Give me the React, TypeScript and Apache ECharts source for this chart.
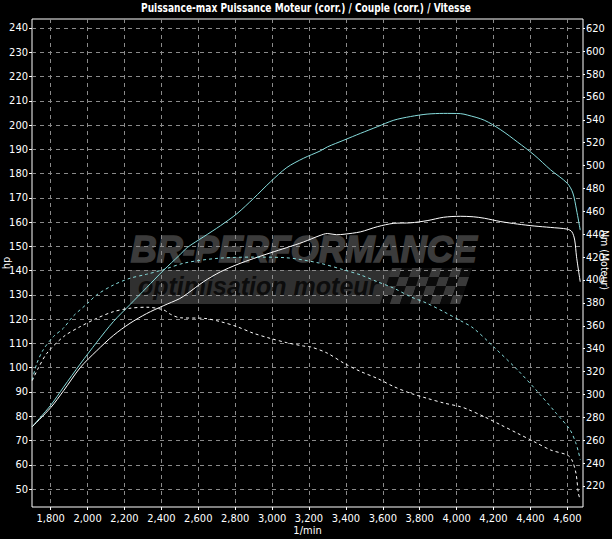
import React, { useEffect, useRef } from 'react';
import * as echarts from 'echarts';

const TITLE = 'Puissance-max Puissance Moteur (corr.) / Couple (corr.) / Vitesse';
const X_NAME = '1/min';
const LEFT_NAME = 'hp';
const RIGHT_NAME = 'Nm (Moteur)';

const X_TICKS = [1800, 2000, 2200, 2400, 2600, 2800, 3000, 3200, 3400, 3600, 3800, 4000, 4200, 4400, 4600];
const HP_TICKS = [50, 60, 70, 80, 90, 100, 110, 120, 130, 140, 150, 160, 170, 180, 190, 200, 210, 220, 230, 240];
const NM_TICKS = [220, 240, 260, 280, 300, 320, 340, 360, 380, 400, 420, 440, 460, 480, 500, 520, 540, 560, 580, 600, 620];

// Cyan solid: power (hp)
const powerARpm = [1700, 1800, 1870, 1960, 2050, 2140, 2230, 2320, 2410, 2500, 2540, 2630, 2720, 2810, 2900, 2990, 3080, 3170, 3260, 3300, 3390, 3480, 3570, 3660, 3750, 3840, 3930, 4020, 4060, 4150, 4240, 4330, 4420, 4510, 4600, 4630, 4650, 4670];
const powerAHp = [75.7, 84.5, 92, 101.5, 110.5, 119, 126, 133, 140, 146.5, 149.5, 154, 158.5, 163.5, 169.8, 176.5, 182.5, 186.3, 189.3, 191, 193.8, 196.6, 199.3, 202, 203.5, 204.5, 204.8, 204.7, 204.1, 202, 198, 193, 187.7, 181.5, 176, 172, 165, 156.7];

// White solid: power (hp)
const powerBRpm = [1700, 1800, 1870, 1960, 2050, 2140, 2230, 2320, 2410, 2500, 2540, 2630, 2720, 2810, 2900, 2990, 3080, 3170, 3260, 3300, 3350, 3390, 3480, 3570, 3660, 3750, 3840, 3930, 4020, 4090, 4150, 4240, 4330, 4420, 4510, 4600, 4625, 4640, 4650, 4670];
const powerBHp = [75.7, 83.5, 90.5, 100, 107, 113.3, 118.3, 122.3, 125.5, 128.5, 130.5, 135.5, 139.5, 142.5, 145, 147.3, 149.5, 151.8, 154.5, 155.3, 154.8, 155, 156, 158.1, 159.5, 159.7, 160.6, 162, 162.4, 162.2, 161.6, 160.2, 159.2, 158.4, 157.8, 157.1, 156, 152.6, 145.7, 135.4];

// Cyan dashed: torque (Nm)
const torqueARpm = [1700, 1725, 1760, 1815, 1870, 1920, 2000, 2050, 2140, 2230, 2320, 2410, 2530, 2710, 2900, 3070, 3250, 3390, 3480, 3570, 3660, 3750, 3840, 3930, 4020, 4090, 4200, 4330, 4430, 4540, 4615, 4645, 4660, 4670];
const torqueANm = [312.6, 327, 339, 350.5, 358, 368, 379.6, 387, 395.6, 401.5, 405, 409, 415, 419, 420, 419.5, 415, 408.8, 404.4, 398.5, 392.8, 385.4, 379.6, 372.3, 364.5, 358, 341.7, 321.4, 304, 283.5, 269, 258, 250, 243];

// White dashed: torque (Nm)
const torqueBRpm = [1700, 1730, 1780, 1870, 1960, 2050, 2140, 2230, 2320, 2410, 2450, 2500, 2630, 2720, 2810, 2900, 2990, 3080, 3170, 3210, 3300, 3390, 3480, 3570, 3660, 3750, 3840, 3930, 4020, 4060, 4150, 4240, 4330, 4420, 4510, 4600, 4625, 4647, 4660, 4670];
const torqueBNm = [312, 322, 336, 350.5, 359.2, 366.5, 372.3, 375.3, 376.2, 374, 370, 367, 366.5, 363.6, 359.2, 353.4, 349, 345.2, 342.3, 341.5, 336, 327.2, 320, 314, 306.8, 301, 296.6, 292.5, 289.3, 287, 280.5, 273.3, 266, 258.7, 251.4, 247, 242.7, 231, 213.6, 207.7];

const FONT = '"Liberation Sans Narrow", "Arial Narrow", "DejaVu Sans Condensed", "Liberation Sans", sans-serif';
const CYAN = '#86dcdc';

const zip = (xs: number[], ys: number[]) => xs.map((x, i) => [x, ys[i]]);

function flagCells() {
  const cells: any[] = [];
  const cw = 10, ch = 9, skew = 3;
  for (let r = 0; r < 4; r++) {
    for (let c = 0; c < 8; c++) {
      const x0 = 392 + c * cw - r * skew;
      const y0 = 268 + r * ch;
      cells.push({
        type: 'polygon',
        z: -5,
        silent: true,
        shape: { points: [[x0, y0], [x0 + cw, y0], [x0 + cw - skew, y0 + ch], [x0 - skew, y0 + ch]] },
        style: { fill: (r + c) % 2 === 0 ? '#3a3a3a' : '#0b0b0b' },
      });
    }
  }
  return cells;
}

export default function App() {
  const ref = useRef<HTMLDivElement>(null);
  useEffect(() => {
    if (!ref.current) return;
    const chart = echarts.init(ref.current, undefined, { renderer: 'svg' });
    const axisText = { color: '#ffffff', fontSize: 11, fontFamily: FONT };
    const gridLine = { show: true, lineStyle: { color: '#8a8a8a', width: 1, type: [4, 4] } };
    chart.setOption({
      animation: false,
      backgroundColor: '#000000',
      graphic: [
        {
          type: 'text',
          z: 10,
          silent: true,
          x: 306,
          y: 8,
          scaleX: 0.84,
          style: {
            text: TITLE,
            fill: '#ffffff',
            font: `bold 12px ${FONT}`,
            textAlign: 'center',
            textVerticalAlign: 'middle',
          },
        },
        {
          type: 'text',
          z: 10,
          silent: true,
          x: 605,
          y: 260,
          rotation: -Math.PI / 2,
          style: {
            text: RIGHT_NAME,
            fill: '#ffffff',
            font: `10.5px ${FONT}`,
            textAlign: 'center',
            textVerticalAlign: 'middle',
          },
        },
        {
          type: 'text',
          z: -5,
          silent: true,
          left: 130,
          top: 231,
          style: {
            text: 'BR-PERFORMANCE',
            fill: '#3b3b3b',
            stroke: '#3b3b3b',
            lineWidth: 1.6,
            font: 'italic bold 36px "Liberation Sans", sans-serif',
          },
        },
        {
          type: 'rect',
          z: -6,
          silent: true,
          shape: { x: 130, y: 270, width: 262, height: 34 },
          style: { fill: '#303030' },
        },
        {
          type: 'text',
          z: -5,
          silent: true,
          left: 138,
          top: 273,
          style: { text: 'optimisation moteur', fill: '#0c0c0c', font: 'italic bold 25px "Liberation Sans", sans-serif' },
        },
        ...flagCells(),
      ],
      grid: {
        left: 32, right: 29, top: 19, bottom: 32,
        outerBoundsMode: 'none',
        containLabel: false,
        show: true, borderColor: '#ffffff', borderWidth: 1, backgroundColor: 'transparent',
      },
      xAxis: {
        type: 'value',
        min: 1699,
        max: 4685,
        name: X_NAME,
        nameLocation: 'middle',
        nameGap: 18,
        nameMoveOverlap: false,
        nameTextStyle: { ...axisText },
        axisLine: { show: false },
        axisTick: { show: true, customValues: X_TICKS, length: 3, lineStyle: { color: '#ffffff' } },
        axisLabel: { ...axisText, customValues: X_TICKS, margin: 6, formatter: (v: number) => v.toLocaleString('en-US') },
        splitLine: gridLine,
      },
      yAxis: [
        {
          type: 'value',
          position: 'left',
          min: 42.6,
          max: 243.7,
          name: LEFT_NAME,
          nameLocation: 'middle',
          nameGap: 20,
          nameMoveOverlap: false,
          nameTextStyle: { ...axisText },
          axisLine: { show: false },
          axisTick: { show: true, customValues: HP_TICKS, length: 3, lineStyle: { color: '#ffffff' } },
          axisLabel: { ...axisText, customValues: HP_TICKS, margin: 4 },
          splitLine: gridLine,
        },
        {
          type: 'value',
          position: 'right',
          min: 201.6,
          max: 628.1,
          axisLine: { show: false },
          axisTick: { show: true, customValues: NM_TICKS, length: 2, lineStyle: { color: '#ffffff' } },
          axisLabel: { ...axisText, customValues: NM_TICKS, margin: 3 },
          splitLine: { show: false },
        },
      ],
      series: [
        {
          name: 'Puissance A',
          type: 'line',
          yAxisIndex: 0,
          data: zip(powerARpm, powerAHp),
          showSymbol: false,
          smooth: 0.3,
          lineStyle: { color: CYAN, width: 1 },
        },
        {
          name: 'Puissance B',
          type: 'line',
          yAxisIndex: 0,
          data: zip(powerBRpm, powerBHp),
          showSymbol: false,
          smooth: 0.3,
          lineStyle: { color: '#ffffff', width: 1 },
        },
        {
          name: 'Couple A',
          type: 'line',
          yAxisIndex: 1,
          data: zip(torqueARpm, torqueANm),
          showSymbol: false,
          smooth: 0.3,
          lineStyle: { color: CYAN, width: 1, type: [3, 3] },
        },
        {
          name: 'Couple B',
          type: 'line',
          yAxisIndex: 1,
          data: zip(torqueBRpm, torqueBNm),
          showSymbol: false,
          smooth: 0.3,
          lineStyle: { color: '#ffffff', width: 1, type: [3, 3] },
        },
      ],
    });
    return () => chart.dispose();
  }, []);
  return <div ref={ref} style={{ position: 'fixed', left: 0, top: 0, width: 612, height: 539 }} />;
}
